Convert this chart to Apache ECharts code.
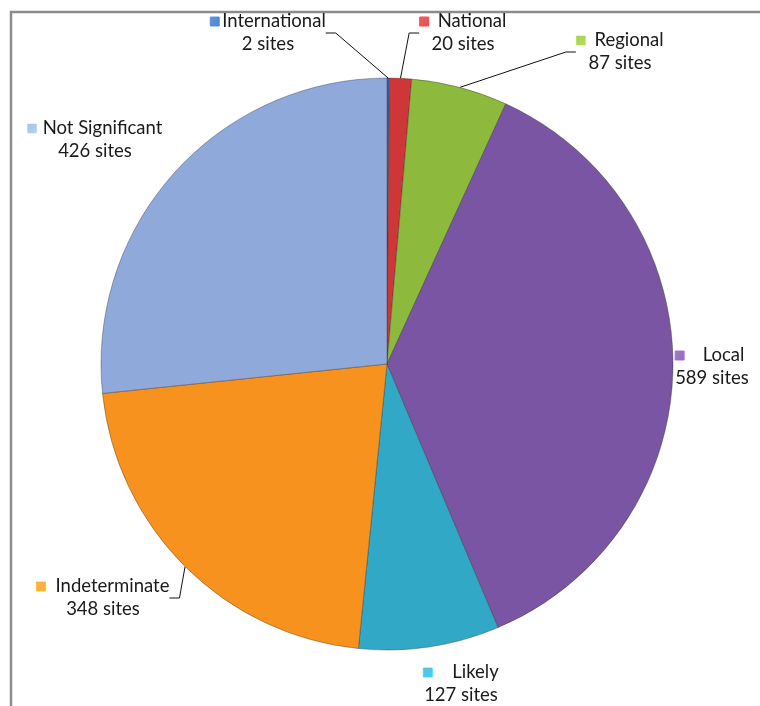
<!DOCTYPE html>
<html>
<head>
<meta charset="utf-8">
<script src="https://cdn.jsdelivr.net/npm/echarts@6/dist/echarts.min.js"></script>
<style>
html,body{margin:0;padding:0;background:#fff;}
#chart{width:760px;height:706px;}
</style>
</head>
<body>
<div id="chart"></div>
<script>
// ---- data ----
var categories = ['International', 'National', 'Regional', 'Local', 'Likely', 'Indeterminate', 'Not Significant'];
var siteCounts = [2, 20, 87, 589, 127, 348, 426];
var valueSuffix = ' sites';

// ---- styles (not data) ----
var sliceColors = ['#3B6CB5', '#CF3637', '#8DB93C', '#7A55A3', '#31A8C6', '#F7921E', '#8FA9DA'];
var showLeader = [true, true, true, false, false, true, false];
var labelPos = [[268, 33], [463, 33], [620, 52], [712, 367], [461, 684], [103, 598], [95, 140]];
var markerGap = [3, 9, 9, 14, 20, 10, 6];

var chart = echarts.init(document.getElementById('chart'));

var rich = {
  n: { fontFamily: 'Lato', fontSize: 18.5, color: '#1a1a1a', align: 'center', lineHeight: 23 },
  v: { fontFamily: 'Lato', fontSize: 18.5, color: '#1a1a1a', align: 'center', lineHeight: 23 }
};
sliceColors.forEach(function (c, i) {
  rich['m' + i] = {
    width: 9, height: 9, align: 'left',
    backgroundColor: {
      type: 'linear', x: 0, y: 0, x2: 1, y2: 1,
      colorStops: [{ offset: 0, color: echarts.color.lift(c, 0.25) }, { offset: 1, color: echarts.color.lift(c, -0.25) }]
    },
    borderColor: echarts.color.lift(c, -0.4), borderWidth: 0.5
  };
  rich['s' + i] = { width: markerGap[i], height: 9, align: 'left' };
});

var seriesData = categories.map(function (name, i) {
  return {
    name: name,
    value: siteCounts[i],
    itemStyle: { color: sliceColors[i] },
    labelLine: { show: showLeader[i] }
  };
});

chart.setOption({
  backgroundColor: '#ffffff',
  animation: false,
  graphic: [{
    type: 'rect',
    shape: { x: 11, y: 12, width: 800, height: 800 },
    style: { fill: 'none', stroke: '#8c8c8c', lineWidth: 2.5 },
    silent: true
  }],
  series: [{
    type: 'pie',
    center: [387, 364],
    radius: [0, 286],
    startAngle: 90,
    clockwise: true,
    avoidLabelOverlap: false,
    data: seriesData,
    itemStyle: { borderColor: 'rgba(40,40,40,0.45)', borderWidth: 0.8 },
    label: {
      show: true,
      position: 'outside',
      formatter: function (p) {
        var i = p.dataIndex;
        return '{m' + i + '|}{s' + i + '|}{n|' + p.name + '}\n{v|' + p.value + valueSuffix + '}';
      },
      rich: rich
    },
    labelLine: {
      show: true,
      length: 10,
      length2: 10,
      lineStyle: { color: '#111', width: 1 }
    },
    labelLayout: function (params) {
      var p = labelPos[params.dataIndex];
      return { x: p[0], y: p[1], align: 'center', verticalAlign: 'middle' };
    }
  }]
});
</script>
</body>
</html>
